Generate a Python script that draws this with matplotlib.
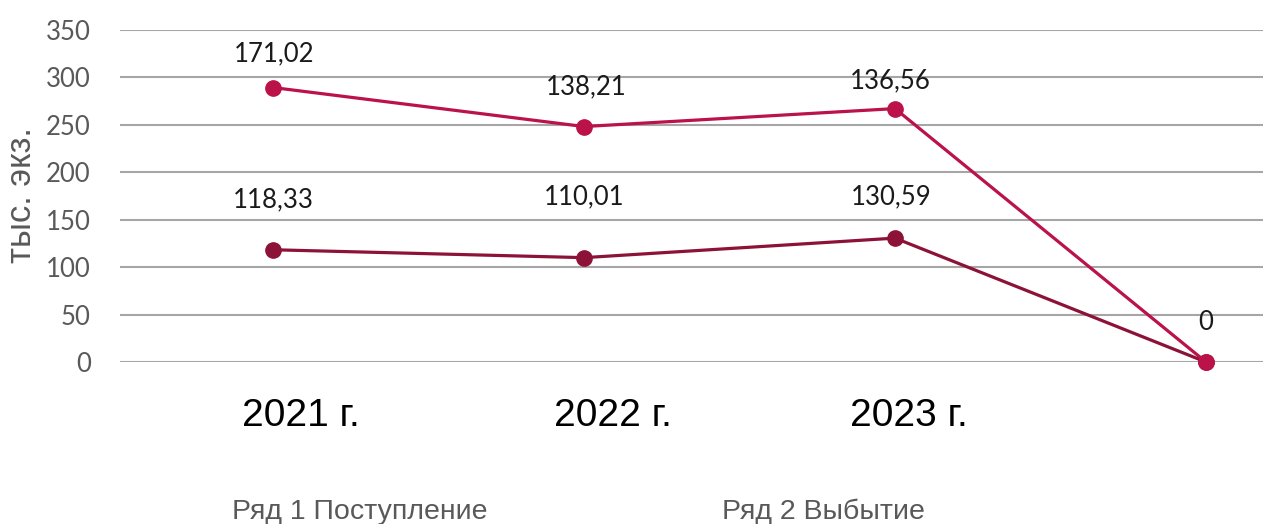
import matplotlib
matplotlib.use("Agg")
import matplotlib.pyplot as plt
import numpy as np

categories = ["2021 г.", "2022 г.", "2023 г.", ""]
row1_values = [118.33, 110.01, 130.59, 0]      # Ряд 1 Поступление
row2_values = [171.02, 138.21, 136.56, 0]      # Ряд 2 Выбытие
row1_labels = ["118,33", "110,01", "130,59", ""]
row2_labels = ["171,02", "138,21", "136,56", "0"]
series_names = ["Ряд 1 Поступление", "Ряд 2 Выбытие"]
y_ticks = [0, 50, 100, 150, 200, 250, 300, 350]

# layout: label offsets in pixels (Excel manual placement)
row1_off = [(0, 50), (0, 61), (-4, 41), (0, 0)]
row2_off = [(1, 34), (2, 40), (-5, 28), (0, 40)]
cat_dx = [28, 29, 14, 0]

c1 = "#8C1238"
c2 = "#BA1249"
gray = "#595959"

fig = plt.figure(figsize=(12.63, 5.24), dpi=100)
W, H = 1263, 524
ax = fig.add_axes([120 / W, 1 - 362 / H, 1 - 120 / W, (362 - 30) / H])

x = np.arange(len(categories))
r1 = np.array(row1_values)
r2 = r1 + np.array(row2_values)  # stacked line

ax.plot(x, r1, color=c1, lw=2.3, marker="o", ms=11, clip_on=False, zorder=3)
ax.plot(x, r2, color=c2, lw=2.3, marker="o", ms=11, clip_on=False, zorder=4)

lab_font = dict(family="Lato", fontsize=18.5, color="#1a1a1a", ha="center", va="center")
for xi, yi, t, off in zip(x, r1, row1_labels, row1_off):
    if t:
        ax.annotate(t, (xi, yi), xytext=off, textcoords="offset pixels", **lab_font)
for xi, yi, t, off in zip(x, r2, row2_labels, row2_off):
    if t:
        ax.annotate(t, (xi, yi), xytext=off, textcoords="offset pixels", **lab_font)

ax.set_xlim((120 - 273) / 311, (1263 - 273) / 311)
ax.set_ylim(0, 350)
ax.set_yticks(y_ticks)
ax.set_xticks(x)
ax.set_xticklabels([""] * len(categories))
for xi, t, dx in zip(x, categories, cat_dx):
    if t:
        ax.annotate(t, (xi, 0), xycoords=("data", "axes fraction"), xytext=(dx, -54),
                    textcoords="offset pixels", ha="center", va="center",
                    fontsize=28, family="Liberation Sans", color="black")
ax.tick_params(axis="x", length=0)
ax.tick_params(axis="y", length=0, pad=21, labelsize=18.5, labelcolor=gray)
for lbl in ax.get_yticklabels():
    lbl.set_family("Lato")

ax.yaxis.grid(True, color="#A6A6A6", lw=1.5)
ax.set_axisbelow(True)
for s in ax.spines.values():
    s.set_visible(False)

fig.text(22 / W, 1 - 195 / H, "тыс. экз.", rotation=90, ha="center", va="center",
         fontsize=25, color=gray, family="Liberation Sans")

fig.text(232 / W, 1 - 512 / H, series_names[0], ha="left", va="center",
         fontsize=20.5, color=gray, family="Liberation Sans")
fig.text(722 / W, 1 - 512 / H, series_names[1], ha="left", va="center",
         fontsize=20.5, color=gray, family="Liberation Sans")

fig.savefig("out.png", dpi=100, facecolor="white")
